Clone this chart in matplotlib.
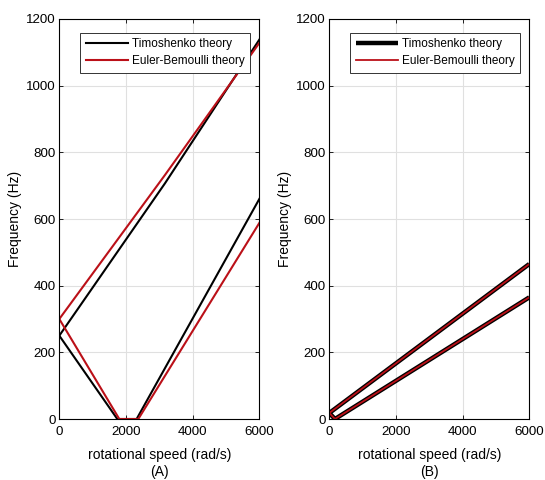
import matplotlib
matplotlib.use("Agg")
import matplotlib.pyplot as plt

plt.rcParams['font.family'] = ['Liberation Sans', 'DejaVu Sans']

# (A) frequency branches vs rotational speed, vertices of each polyline
a_timo_up_x = [0, 3170, 6000]
a_timo_up_y = [250, 707, 1138]
a_timo_low_x = [0, 1740, 2320, 6000]
a_timo_low_y = [250, 0, 0, 660]
a_eb_up_x = [0, 3170, 6000]
a_eb_up_y = [300, 732, 1128]
a_eb_low_x = [0, 1800, 2370, 6000]
a_eb_low_y = [300, 0, 0, 588]

# (B) frequency branches vs rotational speed
b_up_x = [0, 6000]
b_up_y = [18, 465]
b_low_x = [0, 170, 6000]
b_low_y = [18, 0, 365]

x_ticks = [0, 2000, 4000, 6000]
y_ticks = [0, 200, 400, 600, 800, 1000, 1200]

BLACK = "#000000"
RED = "#bb1018"

W, H = 545, 480
fig = plt.figure(figsize=(W / 100, H / 100), dpi=100)
ax_a = fig.add_axes([59.3 / W, 61 / H, 200 / W, 400 / H])
ax_b = fig.add_axes([329.3 / W, 61 / H, 200 / W, 400 / H])


def style(ax, label):
    ax.set_xlim(0, 6000)
    ax.set_ylim(0, 1200)
    ax.set_xticks(x_ticks)
    ax.set_yticks(y_ticks)
    ax.tick_params(direction="in", top=True, right=True, labelsize=9.6,
                   length=3, width=0.6)
    ax.tick_params(axis="x", pad=5)
    ax.tick_params(axis="y", pad=2.5)
    ax.grid(True, color="#e0e0e0", linewidth=0.8)
    ax.set_axisbelow(True)
    for s in ax.spines.values():
        s.set_linewidth(0.8)
    ax.set_ylabel("Frequency (Hz)", fontsize=10, labelpad=3)
    ax.set_xlabel("rotational speed (rad/s)", fontsize=10, labelpad=7)
    ax.text(0.5, -0.1325, label, transform=ax.transAxes, ha="center",
            va="center", fontsize=10)
    leg = ax.legend(loc="upper right", bbox_to_anchor=(0.955, 0.965),
                    fontsize=8.5, frameon=True, fancybox=False,
                    edgecolor="#333333", framealpha=1,
                    handlelength=3.55, handletextpad=0.4, borderpad=0.45,
                    labelspacing=0.42, borderaxespad=0)
    leg.get_frame().set_linewidth(0.7)


# (A)
ax_a.plot(a_timo_up_x, a_timo_up_y, color=BLACK, lw=1.5, label="Timoshenko theory")
ax_a.plot(a_timo_low_x, a_timo_low_y, color=BLACK, lw=1.5)
ax_a.plot(a_eb_up_x, a_eb_up_y, color=RED, lw=1.5, label="Euler-Bemoulli theory")
ax_a.plot(a_eb_low_x, a_eb_low_y, color=RED, lw=1.5)
style(ax_a, "(A)")

# (B)
ax_b.plot(b_up_x, b_up_y, color=BLACK, lw=3.2, label="Timoshenko theory",
          solid_capstyle="butt")
ax_b.plot(b_low_x, b_low_y, color=BLACK, lw=3.2, solid_capstyle="butt")
ax_b.plot(b_up_x, b_up_y, color=RED, lw=1.3, label="Euler-Bemoulli theory")
ax_b.plot(b_low_x, b_low_y, color=RED, lw=1.3)
style(ax_b, "(B)")

fig.savefig("out.png", dpi=100)
